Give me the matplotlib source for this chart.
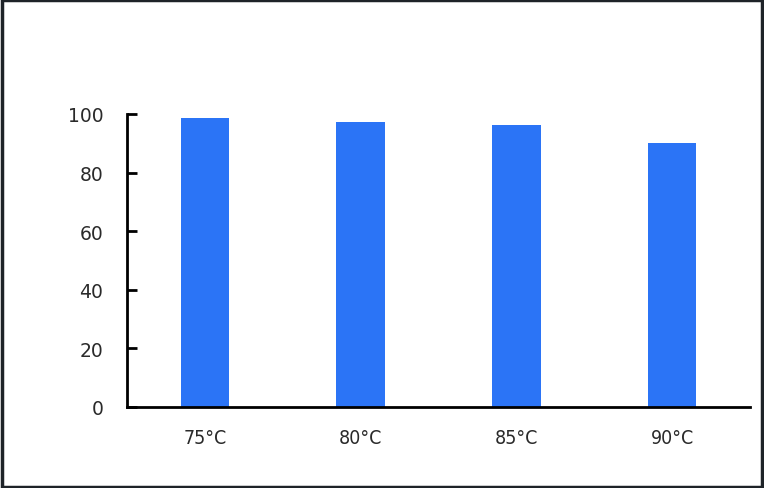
import matplotlib
matplotlib.use("Agg")
import matplotlib.pyplot as plt
from matplotlib.patches import Rectangle

categories = ["75°C", "80°C", "85°C", "90°C"]
values = [98.6, 97.1, 96.3, 90.0]
yticks = [0, 20, 40, 60, 80, 100]

plt.rcParams['font.family'] = ['DejaVu Sans']

fig = plt.figure(figsize=(7.64, 4.89), dpi=100)
ax = fig.add_axes([127/764, 1-408/489, (750-127)/764, (408-115)/489])

x = range(len(categories))
ax.bar(x, values, width=0.31, color="#2b74f6")
ax.set_xlim(-0.5, len(categories)-0.5)
ax.set_ylim(0, 100)
ax.set_yticks(yticks)
ax.set_xticks(list(x))
ax.set_xticklabels(categories)

for s in ["top", "right"]:
    ax.spines[s].set_visible(False)
for s in ["left", "bottom"]:
    ax.spines[s].set_linewidth(2)
    ax.spines[s].set_color("black")

ax.tick_params(axis="y", direction="in", length=7, width=2, labelsize=13.5,
               pad=17, labelcolor="#2a2a2a")
ax.tick_params(axis="x", length=0, labelsize=14, pad=15, labelcolor="#2a2a2a")
for lab in ax.get_xticklabels():
    lab.set_fontstretch("condensed")

fig.patches.append(Rectangle((0.002, 0.003), 0.995, 0.994, transform=fig.transFigure,
                             fill=False, edgecolor="#1e2328", linewidth=2.5))

fig.savefig("out.png", dpi=100)
